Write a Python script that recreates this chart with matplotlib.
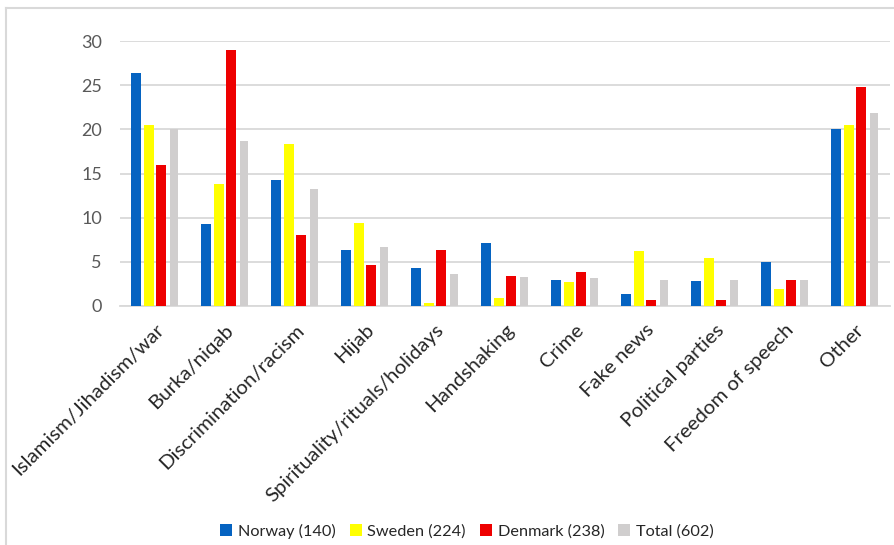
import numpy as np
import matplotlib.pyplot as plt
from matplotlib.lines import Line2D

plt.rcParams['font.family'] = ['Lato', 'DejaVu Sans']

categories = ['Islamism/Jihadism/war', 'Burka/niqab', 'Discrimination/racism', 'Hijab',
              'Spirituality/rituals/holidays', 'Handshaking', 'Crime', 'Fake news',
              'Political parties', 'Freedom of speech', 'Other']

norway = [26.4, 9.3, 14.3, 6.3, 4.3, 7.1, 2.9, 1.4, 2.8, 5.0, 20.0]
sweden = [20.5, 13.8, 18.3, 9.4, 0.3, 0.9, 2.7, 6.2, 5.4, 1.9, 20.5]
denmark = [16.0, 29.0, 8.0, 4.6, 6.3, 3.4, 3.8, 0.7, 0.7, 2.9, 24.8]
total = [20.0, 18.7, 13.2, 6.7, 3.6, 3.3, 3.2, 2.9, 2.9, 2.9, 21.9]

series_names = ['Norway (140)', 'Sweden (224)', 'Denmark (238)', 'Total (602)']
colors = ['#0563c1', '#ffff00', '#ee0000', '#d0cece']

fig = plt.figure(figsize=(8.94, 5.45), dpi=100)
ax = fig.add_axes([120 / 894, 1 - 306 / 545, 770 / 894, 265 / 545])

x = np.arange(len(categories))
pitch = 0.18
offsets = [-1.5 * pitch, -0.5 * pitch, 0.5 * pitch, 1.5 * pitch]
widths = [0.143, 0.143, 0.143, 0.12]
for vals, name, col, off, w in zip([norway, sweden, denmark, total], series_names, colors, offsets, widths):
    ax.bar(x + off, vals, width=w, color=col, label=name, zorder=3)

ax.set_xlim(-0.5, len(categories) - 0.5)
ax.set_ylim(0, 30)
ax.set_yticks(range(0, 31, 5))
ax.yaxis.grid(True, color='#d9d9d9', linewidth=1.3, zorder=0)
for s in ['top', 'right', 'left']:
    ax.spines[s].set_visible(False)
ax.spines['bottom'].set_color('#d9d9d9')
ax.spines['bottom'].set_linewidth(1.3)
ax.tick_params(axis='y', length=0, pad=13, labelsize=13, labelcolor='#595959')
ax.tick_params(axis='x', length=0, pad=11, labelsize=14.7, labelcolor='#262626')
ax.set_xticks(x)
ax.set_xticklabels(categories, rotation=45, ha='right', va='top', rotation_mode='anchor')

# chart frame (left and top edges)
fig.add_artist(Line2D([6 / 894, 6 / 894], [0, 1 - 8 / 545], color='#d9d9d9', linewidth=1.5))
fig.add_artist(Line2D([6 / 894, 1], [1 - 8 / 545, 1 - 8 / 545], color='#d9d9d9', linewidth=1.5))

fig.legend(loc='center', bbox_to_anchor=(467 / 894, 1 - 531 / 545), ncol=4, frameon=False,
           fontsize=11.7, handlelength=0.75, handleheight=0.75, handletextpad=0.35,
           columnspacing=0.85, labelcolor='#262626')

fig.savefig('out.png', dpi=100)
